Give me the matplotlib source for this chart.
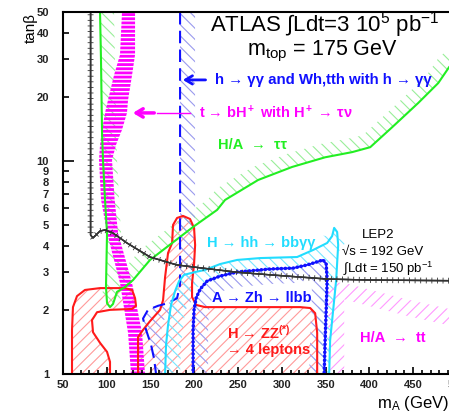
import numpy as np
import matplotlib
matplotlib.use("Agg")
import matplotlib.pyplot as plt
import matplotlib.patheffects as pe

plt.rcParams['font.family'] = ['Liberation Sans', 'DejaVu Sans']
plt.rcParams['mathtext.fontset'] = 'custom'
plt.rcParams['mathtext.rm'] = 'Liberation Sans'
plt.rcParams['mathtext.it'] = 'Liberation Sans:italic'
plt.rcParams['mathtext.bf'] = 'Liberation Sans:bold'
plt.rcParams['mathtext.default'] = 'regular'
plt.rcParams['hatch.linewidth'] = 0.8

# LEP2 limit (mA, tanb)
lep_ma = [81.5, 81.5, 84.3, 92.3, 98.0, 107.0, 123.0, 149.4, 180.0, 206.6, 250.0, 286.6, 351.7, 401.0, 500.0]
lep_tb = [50.0, 4.49, 4.35, 4.69, 4.74, 4.59, 4.12, 3.54, 3.25, 3.15, 3.00, 2.92, 2.79, 2.76, 2.74]

# t -> bH+ band (left / right edge vs tanb)
tbh_tb = [50.0, 31.5, 25.3, 19.3, 16.8, 14.0, 11.9, 10.1, 6.56, 4.59, 2.67, 1.56, 1.0]
tbh_lo = [117.4, 115.1, 108.3, 101.4, 98.0, 94.6, 92.3, 91.1, 93.5, 100.3, 115.1, 124.3, 127.7]
tbh_hi = [132.3, 132.3, 128.9, 124.3, 123.1, 117.4, 110.6, 106.0, 109.0, 112.9, 128.9, 140.3, 143.7]

# H/A -> tautau
tau_ma = [92.3, 93.4, 94.6, 95.7, 98.0, 100.3, 99.1, 100.3, 103.7, 107.1, 111.7, 120.9, 130.0, 149.4,
          168.9, 198.6, 226.0, 235.1, 272.9, 311.7, 349.4, 380.3, 400.9, 426.0, 455.7, 478.6, 491.1, 500.0]
tau_tb = [50.0, 29.8, 13.5, 10.1, 6.56, 4.59, 2.56, 2.15, 2.06, 2.13, 2.43, 2.56, 2.76, 3.43,
          3.95, 4.90, 5.89, 6.56, 8.14, 9.37, 10.4, 11.0, 11.6, 14.4, 18.7, 23.2, 27.6, 29.8]

# h -> gamma gamma (dashed)
hgg_ma = [183.7, 183.7, 180.3, 170.0, 158.6, 147.1, 141.4, 144.9, 150.6, 154.0, 156.3]
hgg_tb = [50.0, 2.62, 2.27, 2.15, 2.09, 2.00, 1.82, 1.61, 1.37, 1.18, 1.0]

# H -> ZZ(*) -> 4l, two regions
zz1_ma = [60.3, 60.3, 61.4, 66.0, 75.1, 92.3, 120.9, 128.9, 132.3, 133.4, 128.9, 103.7, 88.9, 83.1,
          84.3, 92.3, 100.3, 103.7, 103.7]
zz1_tb = [1.0, 1.61, 2.06, 2.32, 2.48, 2.53, 2.53, 2.48, 2.27, 2.09, 2.02, 2.0, 1.95, 1.79,
          1.57, 1.40, 1.27, 1.14, 1.0]
zz2_ma = [135.7, 135.7, 141.4, 149.4, 160.9, 164.3, 166.6, 170.0, 174.6, 175.7, 180.3, 187.1, 195.1,
          199.7, 200.9, 199.7, 197.4, 197.4, 202.0, 212.3, 320.9, 332.3, 338.0, 340.3, 340.3]
zz2_tb = [1.0, 1.49, 1.61, 1.77, 2.0, 2.22, 2.85, 3.70, 4.12, 5.01, 5.40, 5.52, 5.34,
          4.85, 4.03, 3.28, 2.67, 2.30, 2.11, 2.06, 2.06, 2.04, 1.93, 1.56, 1.0]

# H -> hh -> bbgg
hh_ma = [166.6, 167.7, 170.0, 173.4, 178.0, 182.6, 188.3, 200.9, 212.3, 229.4, 248.9, 275.1, 317.4,
         335.7, 351.7, 357.4, 359.7, 363.1, 364.3, 362.0, 358.6, 355.1, 354.0]
hh_tb = [1.0, 1.37, 1.70, 2.11, 2.45, 2.73, 2.92, 3.01, 3.08, 3.28, 3.43, 3.50, 3.54,
         3.82, 4.12, 4.44, 4.85, 4.64, 4.03, 2.76, 2.0, 1.44, 1.0]

# A -> Zh -> llbb
zh_ma = [198.6, 198.6, 199.7, 202.0, 206.6, 214.6, 229.4, 248.9, 286.6, 312.9, 328.9, 340.3, 347.1,
         350.6, 351.7, 350.6, 349.4, 348.3]
zh_tb = [1.0, 1.61, 2.0, 2.27, 2.50, 2.73, 2.88, 3.01, 3.11, 3.14, 3.25, 3.36, 3.43,
         3.28, 2.76, 2.0, 1.44, 1.0]

# H/A -> tt
tt_ma = [352.9, 352.9, 352.9, 356.3, 372.3, 406.6, 446.6, 491.1, 500.0]
tt_tb = [1.0, 2.22, 2.62, 2.70, 2.67, 2.45, 2.22, 2.02, 1.98]

RED = '#ff1a1a'
GREEN = '#22ee22'
BLUE = '#1010ff'
CYAN = '#22ddff'
MAG = '#ff00ff'


def hfill(ax, x, y, color, hatch, hlw=0.8):
    with plt.rc_context({'hatch.linewidth': hlw}):
        p = ax.fill(x, y, facecolor='none', edgecolor=color, hatch=hatch, linewidth=0)[0]
    if hasattr(p, 'set_hatch_linewidth'):
        p.set_hatch_linewidth(hlw)
    return p


def band(ax, x, y, width, side, color, hatch):
    # hatched strip of 'width' pixels along one side of the curve
    pts = ax.transData.transform(np.column_stack([x, y]))
    d = np.gradient(pts, axis=0)
    d = d / np.hypot(d[:, 0], d[:, 1])[:, None]
    off = pts + side * width * np.column_stack([-d[:, 1], d[:, 0]])
    poly = ax.transData.inverted().transform(np.vstack([pts, off[::-1]]))
    hfill(ax, poly[:, 0], poly[:, 1], color, hatch)


fig = plt.figure(figsize=(4.49, 4.15), dpi=100)
ax = fig.add_axes([0.1403, 0.0988, 0.8775, 0.8723])
ax.set_yscale('log')
ax.set_xlim(50, 500)
ax.set_ylim(1, 50)

# hatched areas
hfill(ax, zz1_ma, zz1_tb, '#ff9a9a', '///')
hfill(ax, zz2_ma, zz2_tb, '#ff9a9a', '///')
band(ax, tau_ma, tau_tb, 14, 1, '#99ee99', '\\\\\\')
band(ax, hgg_ma, hgg_tb, 15, 1, '#9a9aee', '\\\\\\')
band(ax, hh_ma, hh_tb, 15, -1, '#77e6ff', '\\\\\\')
band(ax, zh_ma, zh_tb, 15, -1, '#9a9aee', '\\\\\\')
band(ax, tt_ma, tt_tb, 16, -1, '#ff99ff', '///')
with plt.rc_context({'hatch.linewidth': 2.0}):
    p = ax.fill_betweenx(tbh_tb, tbh_lo, tbh_hi, facecolor='none', edgecolor=MAG,
                         hatch='----', linewidth=0)
if hasattr(p, 'set_hatch_linewidth'):
    p.set_hatch_linewidth(2.0)

# contour lines
ax.plot(zz1_ma, zz1_tb, color=RED, lw=1.5)
ax.plot(zz2_ma, zz2_tb, color=RED, lw=1.5)
ax.plot(tau_ma, tau_tb, color=GREEN, lw=1.5)
ax.plot(hgg_ma, hgg_tb, color=BLUE, lw=1.5, dashes=(6, 3))
ax.plot(hh_ma, hh_tb, color=CYAN, lw=1.5)
ax.plot(zh_ma, zh_tb, color=BLUE, lw=1.3)
ax.plot(zh_ma, zh_tb, color=BLUE, lw=2.6, ls=(0, (0.01, 1.1)), dash_capstyle='round')
ticks = [pe.withTickedStroke(spacing=4, angle=90, length=0.45, linewidth=0.6),
         pe.withTickedStroke(spacing=4, angle=-90, length=0.45, linewidth=0.6), pe.Normal()]
ax.plot(lep_ma, lep_tb, color='#333333', lw=1.0, path_effects=ticks)

# labels on the plot
ax.text(349, 43.5, 'ATLAS $\\int$Ldt=3 10$^5$ pb$^{-1}$', fontsize=16, ha='center', va='center')
ax.text(346, 32.5, 'm$_{top}$ = 175 GeV', fontsize=15.5, ha='center', va='center')

ax.annotate('', xy=(183.7, 24.0), xytext=(216, 24.0),
            arrowprops=dict(arrowstyle='->,head_length=0.5,head_width=0.3', color=BLUE, lw=2))
ax.text(224, 24.0, 'h → γγ and Wh,tth with h → γγ', color=BLUE, fontsize=10.8,
        fontweight='bold', ha='left', va='center')

ax.plot([157.4, 195.0], [16.8, 16.8], color=MAG, lw=1)
ax.annotate('', xy=(126.6, 16.8), xytext=(157.4, 16.8),
            arrowprops=dict(arrowstyle='->,head_length=0.5,head_width=0.3', color=MAG, lw=2.5))
ax.text(205, 16.8, 't → bH$^+$ with H$^+$ → τν', color=MAG, fontsize=10.5,
        fontweight='bold', ha='left', va='center')

ax.text(227, 11.9, 'H/A  →  ττ', color=GREEN, fontsize=10.5, fontweight='bold', ha='left', va='center')
ax.text(214.6, 4.12, 'H → hh → bbγγ', color=CYAN, fontsize=10.5, fontweight='bold',
        ha='left', va='center')
ax.text(220, 2.27, 'A → Zh → llbb', color=BLUE, fontsize=10.5, fontweight='bold', ha='left', va='center')
ax.text(237, 1.56, 'H → ZZ$^{(*)}$', color=RED, fontsize=10.5, fontweight='bold', ha='left', va='center')
ax.text(237, 1.30, '→ 4 leptons', color=RED, fontsize=10.5, fontweight='bold', ha='left', va='center')
ax.text(389, 1.48, 'H/A  →  tt', color=MAG, fontsize=10.5, fontweight='bold', ha='left', va='center')

ax.text(410, 4.49, 'LEP2', fontsize=9.5, ha='center', va='center')
ax.text(369, 3.74, '√s = 192 GeV', fontsize=9.5, ha='left', va='center')
ax.text(370, 3.12, '∫Ldt = 150 pb$^{-1}$', fontsize=9.5, ha='left', va='center')

# axes styling
ax.set_xticks(np.arange(50, 501, 50))
ax.set_xticks(np.arange(50, 501, 10), minor=True)
ax.set_yticks([1, 10], labels=['1', '10'])
ax.set_yticks([2, 3, 4, 5, 6, 7, 8, 9, 20, 30, 40, 50],
              labels=['2', '3', '4', '5', '6', '7', '8', '9', '20', '30', '40', '50'], minor=True)
ax.tick_params(axis='both', which='both', direction='in', labelsize=8, labelcolor='#222222', width=1.2)
ax.tick_params(axis='y', which='major', length=8, pad=10)
ax.tick_params(axis='y', which='minor', length=4, pad=10)
ax.tick_params(axis='x', which='major', length=5, pad=4)
ax.tick_params(axis='x', which='minor', length=3)
for lab in ax.get_xticklabels() + ax.get_yticklabels() + ax.get_yticklabels(minor=True):
    lab.set_fontweight('bold')
for s in ax.spines.values():
    s.set_linewidth(1.5)

fig.text(31 / 449, 1 - 28 / 415, 'tanβ', rotation=90, fontsize=11, ha='center', va='center')
fig.text(377 / 449, 1 - 403 / 415, 'm$_A$ (GeV)', fontsize=12, ha='left', va='center')

fig.savefig('out.png', dpi=100)
